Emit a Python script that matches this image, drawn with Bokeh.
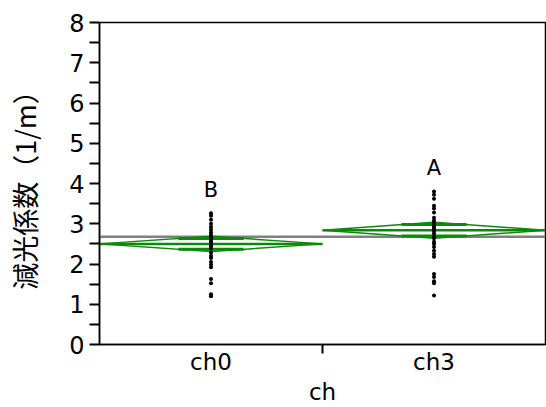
from bokeh.plotting import figure
from bokeh.models import Range1d, FixedTicker, ColumnDataSource, Span
from bokeh.core.properties import value
from bokeh.embed import file_html
from bokeh.resources import INLINE
import math

# Extinction coefficient by channel (one-way analysis with means diamonds)
categories = ["ch0", "ch3"]
ch0_values = [3.26, 3.20, 3.10, 3.00, 2.92, 2.85, 2.78, 2.72, 2.68, 2.64, 2.60,
              2.55, 2.52, 2.48, 2.44, 2.38, 2.28, 2.20, 2.15, 2.05, 1.98, 1.92,
              1.63, 1.52, 1.25, 1.20]
ch3_values = [3.80, 3.72, 3.62, 3.45, 3.38, 3.28, 3.15, 3.08, 3.02, 2.95, 2.90,
              2.86, 2.82, 2.76, 2.68, 2.64, 2.55, 2.50, 2.42, 2.33, 2.25, 2.18,
              1.75, 1.68, 1.57, 1.52, 1.22]
group_means = [2.50, 2.84]
ci_half_widths = [0.19, 0.20]
grand_mean = 2.68
group_letters = ["B", "A"]
y_ticks = [0, 1, 2, 3, 4, 5, 6, 7, 8]

GREEN = "#0a8a0a"
groups = [ch0_values, ch3_values]

p = figure(width=546, height=407, output_backend="svg", toolbar_location=None,
           x_range=Range1d(0, len(categories)), y_range=Range1d(0, 8),
           min_border_left=99, min_border_right=1, min_border_top=22,
           min_border_bottom=40)
p.grid.visible = False
p.outline_line_color = "black"
p.outline_line_width = 1.5
p.background_fill_color = "white"
p.border_fill_color = "white"

# grand mean
p.add_layout(Span(location=grand_mean, dimension="width", line_color="#808080",
                  line_width=2.5, level="underlay"))

# means diamonds
dx, dy = [], []
mx0, mx1, my = [], [], []
ox0, ox1, oy = [], [], []
h = 0.5 * (1 - 1 / math.sqrt(2))
for i, (m, c) in enumerate(zip(group_means, ci_half_widths)):
    dx.append([i, i + 0.5, i + 1, i + 0.5])
    dy.append([m, m + c, m, m - c])
    mx0.append(i); mx1.append(i + 1); my.append(m)
    for sgn in (1, -1):
        ox0.append(i + 0.5 - h); ox1.append(i + 0.5 + h)
        oy.append(m + sgn * c / math.sqrt(2))

p.patches(dx, dy, fill_color=None, line_color=GREEN, line_width=1.5)
p.segment(x0=mx0, y0=my, x1=mx1, y1=my, line_color=GREEN, line_width=2.5)
p.segment(x0=ox0, y0=oy, x1=ox1, y1=oy, line_color=GREEN, line_width=3)

# observations
px, py = [], []
for i, vals in enumerate(groups):
    px += [i + 0.5] * len(vals)
    py += vals
p.scatter(px, py, size=4, color="black", line_color=None)

# connecting letters
src = ColumnDataSource(dict(x=[i + 0.5 for i in range(len(categories))],
                            y=[max(v) + 0.58 for v in groups],
                            t=group_letters))
p.text(x="x", y="y", text="t", source=src, text_align="center",
       text_baseline="middle", text_font=value("DejaVu Sans"),
       text_font_size="21px", text_color="black")

# y axis
ya = p.yaxis[0]
ya.ticker = FixedTicker(ticks=y_ticks,
                        minor_ticks=[t + 0.5 for t in y_ticks[:-1]])
ya.axis_label = "減光係数（1/m）"
ya.axis_label_text_font = "Noto Sans CJK JP"
ya.axis_label_text_font_size = "27px"
ya.axis_label_text_font_style = "normal"
ya.axis_label_text_color = "black"
ya.axis_label_standoff = 22
ya.major_label_text_font = "DejaVu Sans"
ya.major_label_text_font_size = "24px"
ya.major_label_text_color = "black"
ya.major_label_standoff = 5
ya.major_tick_out = 10
ya.major_tick_in = 0
ya.minor_tick_out = 10
ya.minor_tick_in = 0
ya.major_tick_line_width = 2
ya.minor_tick_line_width = 2
ya.axis_line_width = 1.5

# x axis: labels at category centres, a divider tick between them
xa = p.xaxis[0]
xa.ticker = FixedTicker(ticks=[i + 0.5 for i in range(len(categories))],
                        minor_ticks=list(range(1, len(categories))))
xa.major_label_overrides = {i + 0.5: c for i, c in enumerate(categories)}
xa.axis_label = "ch"
xa.axis_label_text_font = "DejaVu Sans"
xa.axis_label_text_font_size = "23px"
xa.axis_label_text_font_style = "normal"
xa.axis_label_text_color = "black"
xa.axis_label_standoff = 1
xa.major_label_text_font = "DejaVu Sans"
xa.major_label_text_font_size = "23px"
xa.major_label_text_color = "black"
xa.major_label_standoff = -5
xa.major_tick_out = 0
xa.major_tick_in = 0
xa.minor_tick_out = 9
xa.minor_tick_in = 0
xa.minor_tick_line_width = 2
xa.axis_line_width = 1.5

open("out.html", "w").write(file_html(p, INLINE))
